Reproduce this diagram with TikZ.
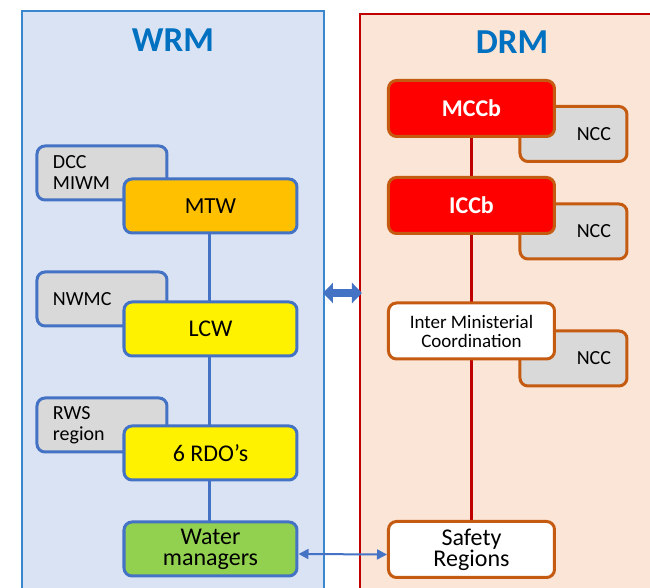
\documentclass[tikz,border=0pt]{standalone}
\usepackage{fontspec}
\setmainfont{Carlito}
\usepackage{xcolor}
\usetikzlibrary{arrows.meta}
\definecolor{wrmfill}{HTML}{DAE3F3}
\definecolor{wrmline}{HTML}{3A86CF}
\definecolor{drmfill}{HTML}{FBE5D6}
\definecolor{drmline}{HTML}{C00000}
\definecolor{titleblue}{HTML}{0070C0}
\definecolor{boxblue}{HTML}{4472C4}
\definecolor{boxorange}{HTML}{C55A11}
\definecolor{boxgray}{HTML}{D9D9D9}
\definecolor{mtworange}{HTML}{FFC000}
\definecolor{wmgreen}{HTML}{92D050}
\tikzstyle{panel}=[line width=1pt]
\tikzstyle{paneltitle}=[text=titleblue, font=\fontsize{17.5}{20}\selectfont\bfseries]
\tikzstyle{sidebox}=[draw=boxblue, fill=boxgray, line width=1.5pt, rounded corners=4pt, minimum height=27pt, inner xsep=8pt, text width=49pt, align=left, font=\fontsize{10}{10.5}\selectfont]
\tikzstyle{wrmbox}=[draw=boxblue, line width=1.5pt, rounded corners=4pt, minimum width=86.5pt, minimum height=27pt, align=center, font=\fontsize{12}{13}\selectfont]
\tikzstyle{nccbox}=[draw=boxorange, fill=boxgray, line width=1.5pt, rounded corners=4pt, minimum height=27.5pt, inner xsep=8pt, text width=37.5pt, align=right, font=\fontsize{10}{11}\selectfont]
\tikzstyle{drmbox}=[draw=boxorange, line width=1.5pt, rounded corners=4pt, minimum width=83pt, minimum height=28pt, align=center, font=\fontsize{12}{13}\selectfont]

\begin{document}
\begin{tikzpicture}[x=0.5pt,y=-0.5pt]
      \useasboundingbox (0,0) rectangle (650,588);
      \clip (0,0) rectangle (650,588);
      % the two panels
      \draw [panel,draw=wrmline,fill=wrmfill] (22,11) rectangle (324,600);
      \draw [panel,draw=drmline,fill=drmfill] (360,14) rectangle (660,600);
      \node [paneltitle] (wrm) at (173,40) {WRM};
      \node [paneltitle] (drm) at (512,42) {DRM};
      % WRM side
      \node [sidebox] (dcc) at (102,173) {DCC\\MIWM};
      \node [sidebox] (nwmc) at (102,299) {NWMC};
      \node [sidebox] (rws) at (102,425) {RWS\\region};
      \draw [line width=1.5pt,boxblue] (210,233) -- (210,522);
      \node [wrmbox,fill=mtworange,font=\fontsize{11.5}{13}\selectfont] (mtw) at (210.5,206) {MTW};
      \node [wrmbox,fill=yellow] (lcw) at (210.5,329) {LCW};
      \node [wrmbox,fill=yellow] (rdo) at (210.5,453) {6 RDO’s};
      \node [wrmbox,fill=wmgreen,font=\fontsize{12}{10.5}\selectfont] (water) at (210.5,549) {Water\\managers};
      % DRM side
      \node [nccbox] (ncca) at (573.5,134) {NCC};
      \node [nccbox] (nccb) at (573.5,231.5) {NCC};
      \node [nccbox] (nccc) at (573.5,358.5) {NCC};
      \draw [line width=1.5pt,drmline] (472,137) -- (472,522);
      \node [drmbox,fill=red,text=white,font=\fontsize{12}{13}\selectfont\bfseries] (mccb) at (471.5,108.5) {MCCb};
      \node [drmbox,fill=red,text=white,font=\fontsize{12}{13}\selectfont\bfseries] (iccb) at (471.5,205.5) {ICCb};
      \node [drmbox,fill=white,font=\fontsize{9.5}{9.5}\selectfont] (imc) at (471.5,331) {Inter Ministerial\\Coordination};
      \node [drmbox,fill=white,font=\fontsize{12}{10.5}\selectfont] (safety) at (471.5,549.5) {Safety\\Regions};
      % links between the panels
      \coordinate (linkl) at (323,293);
      \coordinate (linkr) at (362,293);
      \draw [line width=4pt,boxblue,{Triangle[length=5pt,width=10pt]}-{Triangle[length=5pt,width=10pt]}] (linkl) -- (linkr);
      \draw [line width=1pt,boxblue,<->,>={Triangle[length=5pt,width=5pt]}] ([yshift=-2.5pt]water.east) -- ([yshift=-2.5pt]safety.west);
    \end{tikzpicture}
\end{document}
